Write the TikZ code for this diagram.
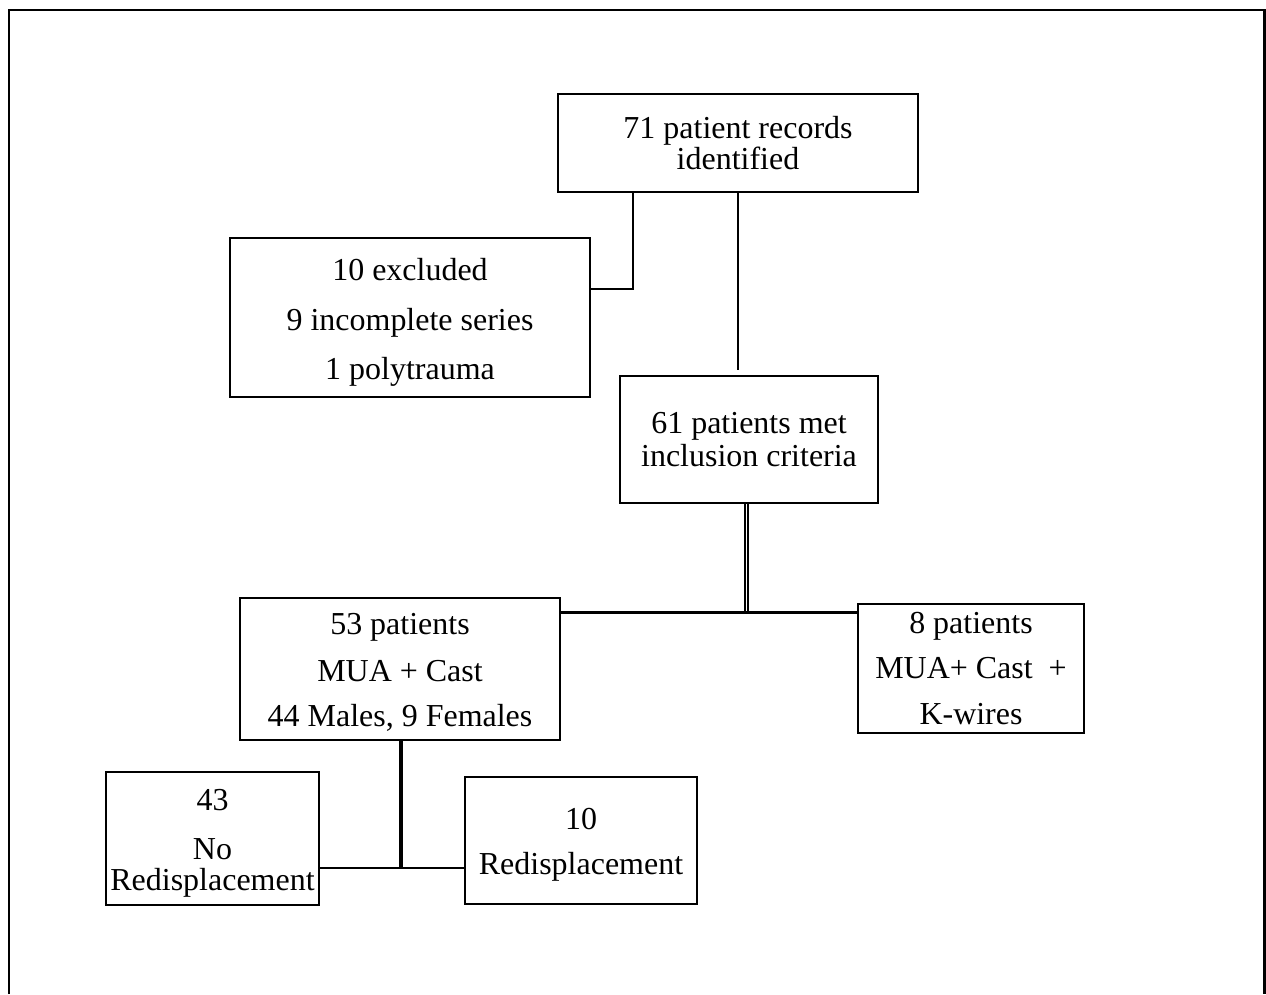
\documentclass[tikz,border=0pt]{standalone}
\usepackage{fontspec}
\setmainfont{Liberation Serif}
\usetikzlibrary{positioning, calc}

\begin{document}
\begin{tikzpicture}[
    x=0.02cm, y=-0.02cm,
    box/.style={
        draw,
        line width=1.6pt,
        align=center,
        inner sep=0pt,
        font=\fontsize{18.2}{17.6}\selectfont
    },
    link/.style={line width=1.3pt},
    twin/.style={double, double distance=0.5pt, line width=1.2pt},
    heavy/.style={line width=2.6pt}
]

% --- PAGE FRAME ---
\useasboundingbox (0,0) rectangle (1266,994);
\draw[line width=1.7pt] (9,994) -- (9,10) -- (1264,10) -- (1264,994);

% --- BOXES ---
\node[box, minimum width=7.2cm, minimum height=1.96cm] (records) at (738,143)
    {71 patient records\\identified};
\node[box, minimum width=7.2cm, minimum height=3.18cm] (excluded) at (410,317.5)
    {\rule{0pt}{0.64cm}10 excluded\\[0.38cm]9 incomplete series\\[0.36cm]1 polytrauma};
\node[box, minimum width=5.16cm, minimum height=2.54cm] (included) at (749,439.5)
    {61 patients met\\[0.04cm]inclusion criteria};
\node[box, minimum width=6.4cm, minimum height=2.84cm] (cast) at (400,669)
    {\rule{0pt}{0.56cm}53 patients\\[0.32cm]MUA + Cast\\[0.28cm]44 Males, 9 Females};
\node[box, minimum width=4.52cm, minimum height=2.58cm] (wires) at (971,668.5)
    {8 patients\\[0.3cm]MUA+ Cast~ +\\[0.3cm]K-wires};
\node[box, minimum width=4.26cm, minimum height=2.66cm] (nodisp) at (212.5,838.5)
    {\rule{0pt}{0.61cm}43\\[0.36cm]No\\Redisplacement};
\node[box, minimum width=4.64cm, minimum height=2.54cm] (redisp) at (581,840.5)
    {\rule{0pt}{0.58cm}10\\[0.28cm]Redisplacement};

% --- JUNCTIONS ---
\coordinate (incjoin) at (746.5,612.5);
\coordinate (castjoin) at (401,868);

% --- CONNECTORS ---
\draw[link] ([xshift=-2.1cm]records.south) |- ([yshift=0.57cm]excluded.east);
\draw[link, shorten >=0.1cm] (records.south) -- (records.south |- included.north);
\draw[twin] (included.south -| incjoin) -- (incjoin);
\draw[link] (incjoin) -- (incjoin -| cast.east);
\draw[link] (incjoin) -- (incjoin -| wires.west);
\draw[heavy] (cast.south -| castjoin) -- (castjoin);
\draw[link] (castjoin) -- (castjoin -| nodisp.east);
\draw[link] (castjoin) -- (castjoin -| redisp.west);

\end{tikzpicture}
\end{document}
